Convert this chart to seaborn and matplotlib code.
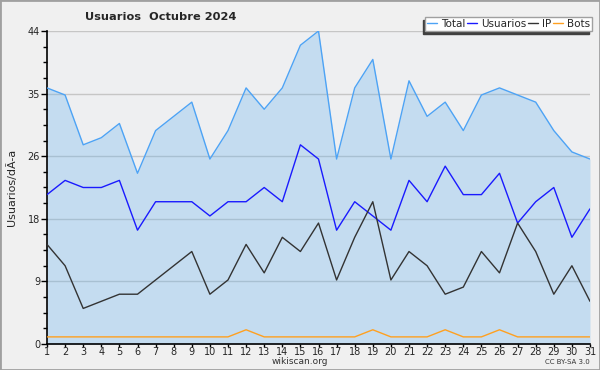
import matplotlib
matplotlib.use('Agg')
import matplotlib.pyplot as plt
from matplotlib.patches import Rectangle
from matplotlib.ticker import FixedLocator, MultipleLocator
import seaborn as sns
import pandas as pd

# Data (October 2024)
days = list(range(1, 32))
total = [36, 35, 28, 29, 31, 24, 30, 32, 34, 26, 30, 36, 33, 36, 42, 44,
         26, 36, 40, 26, 37, 32, 34, 30, 35, 36, 35, 34, 30, 27, 26]
usuarios = [21, 23, 22, 22, 23, 16, 20, 20, 20, 18, 20, 20, 22, 20, 28, 26,
            16, 20, 18, 16, 23, 20, 25, 21, 21, 24, 17, 20, 22, 15, 19]
ip = [14, 11, 5, 6, 7, 7, 9, 11, 13, 7, 9, 14, 10, 15, 13, 17,
      9, 15, 20, 9, 13, 11, 7, 8, 13, 10, 17, 13, 7, 11, 6]
bots = [1, 1, 1, 1, 1, 1, 1, 1, 1, 1, 1, 2, 1, 1, 1, 1,
        1, 1, 2, 1, 1, 1, 2, 1, 1, 2, 1, 1, 1, 1, 1]
ytick_vals = [0, 8.8, 17.6, 26.4, 35.2, 44]
ytick_labels = ['0', '9', '18', '26', '35', '44']

df = pd.DataFrame({'day': days, 'Total': total, 'Usuarios': usuarios,
                   'IP': ip, 'Bots': bots})

sns.set_theme(style='white')
plt.rcParams['font.family'] = ['DejaVu Sans']

fig = plt.figure(figsize=(6, 3.7), dpi=100, facecolor='#f0f0f0')
fig.patches.append(Rectangle((0, 0), 1, 1, transform=fig.transFigure,
                             fill=False, edgecolor='#a0a0a0', lw=2))
ax = fig.add_axes([47/600, 1-344/370, 543/600, 313/370])
ax.set_facecolor('#eeeff1')

ax.fill_between(df['day'], df['Total'], 0, color='#65b3ee', alpha=0.3, lw=0, zorder=2)
colors = {'Total': '#4da3f5', 'Usuarios': '#1a1aff', 'IP': '#333333', 'Bots': '#ffa020'}
for name, col in colors.items():
    sns.lineplot(data=df, x='day', y=name, color=col, lw=1, ax=ax, label=name, zorder=3)

ax.set_xlim(1, 31)
ax.set_ylim(0, 44)
ax.xaxis.set_major_locator(FixedLocator(days))
ax.set_xticklabels([str(d) for d in days])
ax.yaxis.set_major_locator(FixedLocator(ytick_vals))
ax.set_yticklabels(ytick_labels)
ax.yaxis.set_minor_locator(MultipleLocator(2.2))
ax.tick_params(axis='y', which='major', direction='out', length=4, width=1,
               color='black', labelsize=7, pad=1, left=True)
ax.tick_params(axis='x', which='major', direction='out', length=2.5, width=1,
               color='black', labelsize=7, pad=0, bottom=True)
ax.tick_params(axis='y', which='minor', direction='out', length=3, width=1,
               color='black', left=True)
ax.grid(axis='y', which='major', color='#c6c6c6', lw=1, zorder=1)
ax.set_axisbelow(True)
for s in ['top', 'right']:
    ax.spines[s].set_visible(False)
for s in ['left', 'bottom']:
    ax.spines[s].set_color('black')
    ax.spines[s].set_linewidth(1.2)
ax.set_xlabel('')
ax.set_ylabel('Usuarios/dÃ-a', fontsize=8, labelpad=8)

leg = ax.legend(loc='upper right', bbox_to_anchor=(592/600, 1-17/370),
                bbox_transform=fig.transFigure, ncol=4, fontsize=7.5,
                frameon=True, fancybox=False,
                shadow={'ox': -2, 'oy': -2, 'color': '#404040', 'alpha': 1},
                framealpha=1, edgecolor='#a0a0a0', borderpad=0.2,
                handlelength=0.9, handletextpad=0.4, columnspacing=0.2,
                borderaxespad=0)
leg.set_zorder(10)

fig.text(85/600, 1-17/370, 'Usuarios  Octubre 2024', fontsize=8.2,
         fontweight='bold', ha='left', va='center')
fig.text(300/600, 1-362/370, 'wikiscan.org', fontsize=6.5, ha='center',
         va='center', color='#333333')
fig.text(590/600, 1-362/370, 'CC BY-SA 3.0', fontsize=5, ha='right',
         va='center', color='#333333')

fig.savefig('out.png', dpi=100, facecolor=fig.get_facecolor())
